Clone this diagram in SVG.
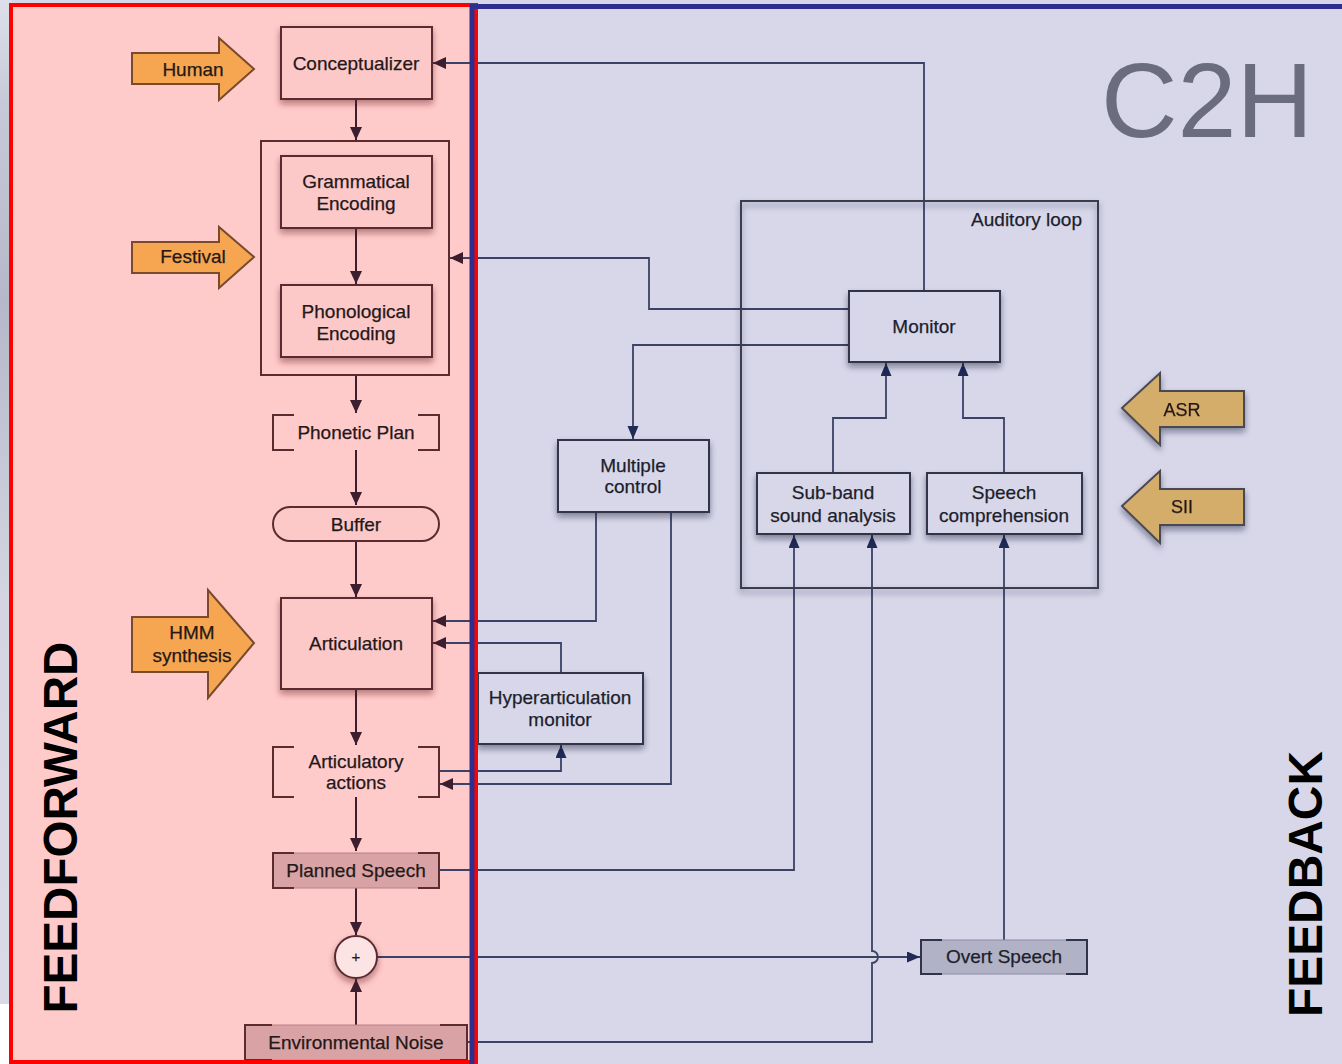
<svg xmlns="http://www.w3.org/2000/svg" width="1342" height="1064" viewBox="0 0 1342 1064">
  <defs>
    <style>
      .lbl { font-family: "Liberation Sans", Arial, sans-serif; font-size: 19px; fill: #241818; text-anchor: middle; stroke: #241818; stroke-width: 0.25; }
      .lblb { font-family: "Liberation Sans", Arial, sans-serif; font-size: 19px; fill: #1c1e2c; text-anchor: middle; stroke: #1c1e2c; stroke-width: 0.25; }
      .ffbox { fill: #fdc8c8; stroke: #5a2c30; stroke-width: 2; }
      .fbbox { fill: #d7d7e9; stroke: #30344a; stroke-width: 2; }
      .brk { fill: none; stroke: #5a2c30; stroke-width: 2; }
      .brkb { fill: none; stroke: #30344a; stroke-width: 2; }
      .cf { fill: none; stroke: #3c1e2e; stroke-width: 2; }
      .cb { fill: none; stroke: #3a4266; stroke-width: 1.8; }
      .orange { fill: #f6a650; stroke: #7a4a2c; stroke-width: 2; }
      .tan { fill: #d4ad6b; stroke: #4a4a52; stroke-width: 2; }
      .big { font-family: "Liberation Sans", Arial, sans-serif; font-weight: bold; font-size: 48px; fill: #000; text-anchor: middle; }
    </style>
    <marker id="af" markerUnits="userSpaceOnUse" markerWidth="14" markerHeight="12" refX="13" refY="6" orient="auto">
      <path d="M0,0 L13,6 L0,12 z" fill="#3c1e2e"/>
    </marker>
    <marker id="ab" markerUnits="userSpaceOnUse" markerWidth="14" markerHeight="12" refX="13" refY="5.5" orient="auto">
      <path d="M0,0 L13,5.5 L0,11 z" fill="#1f2a55"/>
    </marker>
    <filter id="shf" x="-20%" y="-20%" width="140%" height="160%">
      <feDropShadow dx="0" dy="4" stdDeviation="3" flood-color="#5a1a1a" flood-opacity="0.45"/>
    </filter>
    <filter id="shb" x="-20%" y="-20%" width="140%" height="160%">
      <feDropShadow dx="0" dy="4" stdDeviation="3" flood-color="#1a1a30" flood-opacity="0.45"/>
    </filter>
    <linearGradient id="edge" x1="0" y1="0" x2="0" y2="1">
      <stop offset="0" stop-color="#dde0ea"/>
      <stop offset="0.1" stop-color="#c6cad8"/>
      <stop offset="0.3" stop-color="#b4b8c8"/>
      <stop offset="0.6" stop-color="#d3d6e2"/>
      <stop offset="1" stop-color="#d8dbe6"/>
    </linearGradient>
  </defs>

  <!-- backdrop -->
  <rect x="0" y="0" width="1342" height="1064" fill="#d7d7e9"/>
  <rect x="0" y="0" width="12" height="1004" fill="url(#edge)"/>
  <rect x="0" y="1004" width="12" height="60" fill="#ffffff"/>

  <!-- panels -->
  <rect x="11" y="5" width="465" height="1057" fill="#ffcaca"/>
  <rect x="472" y="6.5" width="880" height="1070" fill="#d7d7e9"/>

  <!-- big labels -->
  <text x="1101" y="137" font-family="'Liberation Sans', Arial, sans-serif" font-size="106" fill="#6b6c7e">C2H</text>
  <text class="big" transform="translate(77,827.5) rotate(-90)" textLength="372" lengthAdjust="spacingAndGlyphs">FEEDFORWARD</text>
  <text class="big" transform="translate(1322,884) rotate(-90)" textLength="266" lengthAdjust="spacingAndGlyphs">FEEDBACK</text>

  <!-- connectors -->
  <g id="connectors">
    <!-- feedforward chain -->
    <path class="cf" d="M356,99 V140" marker-end="url(#af)"/>
    <path class="cf" d="M356,228 V284" marker-end="url(#af)"/>
    <path class="cf" d="M356,375 V413" marker-end="url(#af)"/>
    <path class="cf" d="M356,450 V505" marker-end="url(#af)"/>
    <path class="cf" d="M356,541 V597" marker-end="url(#af)"/>
    <path class="cf" d="M356,689 V745" marker-end="url(#af)"/>
    <path class="cf" d="M356,797 V851" marker-end="url(#af)"/>
    <path class="cf" d="M356,888 V935" marker-end="url(#af)"/>
    <path class="cf" d="M356,1025 V979" marker-end="url(#af)"/>
    <!-- feedback paths -->
    <path class="cb" d="M924,291 V63 H433" marker-end="url(#af)"/>
    <path class="cb" d="M849,309 H649 V258 H450" marker-end="url(#af)"/>
    <path class="cb" d="M849,345 H633 V439" marker-end="url(#ab)"/>
    <path class="cb" d="M833,473 V418 H886 V363" marker-end="url(#ab)"/>
    <path class="cb" d="M1004,473 V418 H963 V363" marker-end="url(#ab)"/>
    <path class="cb" d="M596,512 V621 H433" marker-end="url(#af)"/>
    <path class="cb" d="M671,512 V784 H440" marker-end="url(#af)"/>
    <path class="cb" d="M561,673 V643 H433" marker-end="url(#af)"/>
    <path class="cb" d="M439,771 H561 V745" marker-end="url(#ab)"/>
    <path class="cb" d="M439,870 H794 V535" marker-end="url(#ab)"/>
    <path class="cb" d="M467,1042 H872 V963 A6,6 0 0 0 872,951 V535" marker-end="url(#ab)"/>
    <path class="cb" d="M377,957 H920" marker-end="url(#ab)"/>
    <path class="cb" d="M1004,940 V535" marker-end="url(#ab)"/>
  </g>

  <!-- input arrows -->
  <g id="human">
    <polygon class="orange" points="132,53 219,53 219,38 254,69 219,100 219,84 132,84"/>
    <text class="lbl" x="193" y="76">Human</text>
  </g>
  <g id="festival">
    <polygon class="orange" points="132,242 219,242 219,227 254,257 219,288 219,273 132,273"/>
    <text class="lbl" x="193" y="263">Festival</text>
  </g>
  <g id="hmm">
    <polygon class="orange" points="132,617 208,617 208,590 254,643 208,698 208,672 132,672"/>
    <text class="lbl" x="192" y="639">HMM</text>
    <text class="lbl" x="192" y="662">synthesis</text>
  </g>
  <g id="asr" filter="url(#shb)">
    <polygon class="tan" points="1244,391 1160,391 1160,373 1122,408 1160,445 1160,427 1244,427"/>
    <text class="lbl" x="1182" y="416" style="font-size:18px">ASR</text>
  </g>
  <g id="sii" filter="url(#shb)">
    <polygon class="tan" points="1244,489 1160,489 1160,471 1122,506 1160,543 1160,525 1244,525"/>
    <text class="lbl" x="1182" y="513" style="font-size:18px">SII</text>
  </g>

  <!-- feedforward nodes -->
  <g id="conceptualizer">
    <rect class="ffbox" x="281" y="27" width="151" height="72" filter="url(#shf)"/>
    <text class="lbl" x="356" y="70">Conceptualizer</text>
  </g>
  <g id="encoding-group">
    <rect class="ffbox" x="261" y="141" width="188" height="234" style="fill:none"/>
  </g>
  <g id="grammatical">
    <rect class="ffbox" x="281" y="156" width="151" height="72" filter="url(#shf)"/>
    <text class="lbl" x="356" y="188">Grammatical</text>
    <text class="lbl" x="356" y="210">Encoding</text>
  </g>
  <g id="phonological">
    <rect class="ffbox" x="281" y="285" width="151" height="72" filter="url(#shf)"/>
    <text class="lbl" x="356" y="318">Phonological</text>
    <text class="lbl" x="356" y="340">Encoding</text>
  </g>
  <g id="phonetic-plan">
    <path class="brk" d="M294,415 H273 V450 H294 M418,415 H439 V450 H418"/>
    <text class="lbl" x="356" y="439">Phonetic Plan</text>
  </g>
  <g id="buffer">
    <rect class="ffbox" x="273" y="507" width="166" height="34" rx="17" ry="17"/>
    <text class="lbl" x="356" y="531">Buffer</text>
  </g>
  <g id="articulation">
    <rect class="ffbox" x="281" y="598" width="151" height="91" filter="url(#shf)"/>
    <text class="lbl" x="356" y="650">Articulation</text>
  </g>
  <g id="articulatory-actions">
    <path class="brk" d="M294,747 H273 V797 H294 M418,747 H439 V797 H418"/>
    <text class="lbl" x="356" y="768">Articulatory</text>
    <text class="lbl" x="356" y="789">actions</text>
  </g>
  <g id="planned-speech">
    <rect x="273" y="853" width="166" height="35" fill="#d9a3a5" stroke="#b98088" stroke-width="1"/>
    <path class="brk" d="M294,853 H273 V888 H294 M418,853 H439 V888 H418"/>
    <text class="lbl" x="356" y="877">Planned Speech</text>
  </g>
  <g id="sum">
    <circle cx="356" cy="957" r="21" fill="#fde4e4" stroke="#5a2c30" stroke-width="2" filter="url(#shf)"/>
    <text class="lbl" x="356" y="962" style="font-size:15px">+</text>
  </g>
  <g id="environmental-noise">
    <rect x="245" y="1025" width="222" height="35" fill="#d9a3a5" stroke="#b98088" stroke-width="1"/>
    <path class="brk" d="M272,1025 H245 V1060 H272 M440,1025 H467 V1060 H440"/>
    <text class="lbl" x="356" y="1049">Environmental Noise</text>
  </g>

  <!-- feedback nodes -->
  <g id="auditory-loop">
    <rect x="741" y="201" width="357" height="387" fill="none" stroke="#3a3c4c" stroke-width="2" filter="url(#shb)"/>
    <text class="lblb" x="1082" y="226" style="text-anchor:end">Auditory loop</text>
  </g>
  <g id="monitor">
    <rect class="fbbox" x="849" y="291" width="151" height="71" filter="url(#shb)"/>
    <text class="lblb" x="924" y="333">Monitor</text>
  </g>
  <g id="multiple-control">
    <rect class="fbbox" x="558" y="440" width="151" height="72" filter="url(#shb)"/>
    <text class="lblb" x="633" y="472">Multiple</text>
    <text class="lblb" x="633" y="493">control</text>
  </g>
  <g id="sub-band">
    <rect class="fbbox" x="757" y="473" width="153" height="61" filter="url(#shb)"/>
    <text class="lblb" x="833" y="499">Sub-band</text>
    <text class="lblb" x="833" y="522">sound analysis</text>
  </g>
  <g id="speech-comprehension">
    <rect class="fbbox" x="927" y="473" width="155" height="61" filter="url(#shb)"/>
    <text class="lblb" x="1004" y="499">Speech</text>
    <text class="lblb" x="1004" y="522">comprehension</text>
  </g>
  <g id="hyperarticulation-monitor">
    <rect class="fbbox" x="478" y="673" width="165" height="71" filter="url(#shb)"/>
    <text class="lblb" x="560" y="704">Hyperarticulation</text>
    <text class="lblb" x="560" y="726">monitor</text>
  </g>
  <g id="overt-speech">
    <rect x="921" y="940" width="166" height="34" fill="#b2b2c6" stroke="#8c8ca4" stroke-width="1"/>
    <path class="brkb" d="M942,940 H921 V974 H942 M1066,940 H1087 V974 H1066"/>
    <text class="lblb" x="1004" y="963">Overt Speech</text>
  </g>

  <!-- panel borders -->
  <rect x="11" y="5" width="465" height="1057" fill="none" stroke="#ff0000" stroke-width="4"/>
  <rect x="472" y="6.5" width="880" height="1070" fill="none" stroke="#2e2e8c" stroke-width="5"/>
</svg>
